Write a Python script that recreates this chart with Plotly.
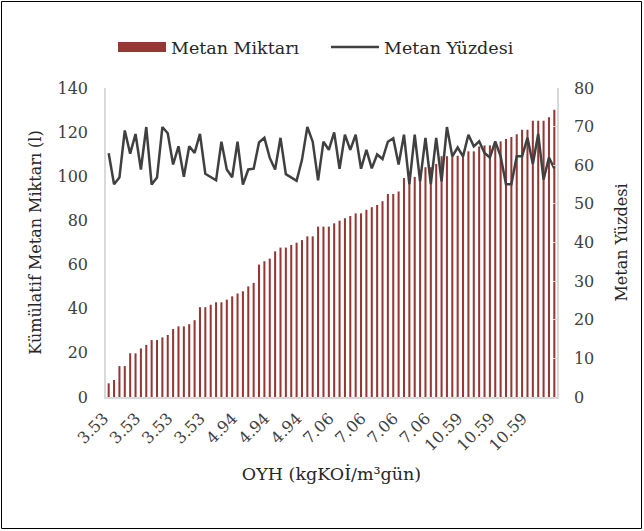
import plotly.graph_objects as go

# OYH (kgKOİ/m³gün) per sample
oyh = (["3.53"] * 24) + (["4.94"] * 18) + (["7.06"] * 24) + (["10.59"] * 18)

# Kümülatif metan miktarı (l)
metan_miktari = [
    6.2, 7.7, 14.0, 14.0, 19.8, 19.8, 22.0, 23.6, 25.8, 25.8,
    27.0, 28.1, 30.8, 32.0, 32.0, 33.0, 34.8, 40.7, 40.7, 41.8,
    42.9, 42.9, 44.1, 45.6, 46.9, 47.9, 50.1, 51.7, 60.0, 61.5,
    62.7, 66.0, 67.7, 67.7, 68.9, 69.9, 71.1, 72.8, 72.8, 77.2,
    77.2, 77.2, 78.7, 79.9, 81.0, 82.0, 83.2, 83.2, 84.8, 86.0,
    87.0, 88.7, 92.0, 92.0, 93.1, 99.2, 99.2, 99.7, 101.0, 104.1,
    104.1, 105.6, 109.1, 109.1, 109.1, 109.3, 110.1, 111.3, 111.3, 113.5,
    114.0, 114.0, 115.1, 115.8, 116.9, 117.8, 119.0, 121.1, 121.1, 125.2,
    125.2, 125.2, 126.7, 130.2,
]

# Metan yüzdesi (%)
metan_yuzdesi = [
    63.1, 55.1, 56.8, 69.0, 63.0, 68.1, 58.9, 69.9, 55.0, 56.8,
    69.9, 68.3, 60.2, 64.9, 57.0, 64.9, 63.2, 68.1, 57.8, 56.9,
    56.1, 66.1, 58.9, 56.9, 66.1, 55.0, 58.9, 59.1, 65.9, 67.1,
    61.9, 58.9, 67.1, 57.7, 56.9, 56.0, 61.4, 69.9, 66.1, 56.1,
    66.1, 64.0, 68.5, 59.1, 67.9, 64.0, 67.9, 59.1, 64.0, 59.2,
    62.8, 61.6, 66.1, 67.0, 60.2, 67.9, 55.1, 67.9, 55.8, 67.1,
    55.1, 67.1, 55.8, 69.9, 62.3, 64.6, 62.3, 67.9, 64.9, 66.2,
    63.2, 62.0, 66.2, 62.3, 55.1, 55.1, 62.3, 62.3, 67.1, 60.3,
    68.1, 56.3, 62.0, 59.2,
]

x = list(range(len(metan_miktari)))
tick_idx = list(range(0, 79, 6))
tick_txt = [oyh[i] for i in tick_idx]

FONT = "DejaVu Serif"
TXT = "#404040"
DARK = "#262626"
AX = "#d9d9d9"
RED = "#953735"

fig = go.Figure()
fig.add_trace(go.Bar(
    x=x, y=metan_miktari, name="Metan Miktarı", showlegend=False,
    marker=dict(color=RED, line=dict(width=0)), width=0.38,
))
fig.add_trace(go.Scatter(
    x=x, y=metan_yuzdesi, name="Metan Yüzdesi", yaxis="y2", legend="legend2",
    mode="lines", line=dict(color="#404040", width=2.5),
))
# legend entry for the bars (wide red swatch like the original)
fig.add_trace(go.Scatter(
    x=[None], y=[None], name="Metan Miktarı", mode="lines",
    line=dict(color=RED, width=11), legend="legend", showlegend=True,
))

W, H = 644, 531
L, R, T, B = 106, 87, 88, 134
pw, ph = W - L - R, H - T - B

def px_x(p):
    return (p - L) / pw

def px_y(p):
    return (T + ph - p) / ph

fig.update_layout(
    width=W, height=H,
    margin=dict(l=L, r=R, t=T, b=B, autoexpand=False),
    paper_bgcolor="white", plot_bgcolor="white",
    font=dict(family=FONT, size=16, color=TXT),
    showlegend=True,
    legend=dict(x=px_x(113), xanchor="left", y=px_y(47), yanchor="middle",
                font=dict(size=17.5, color=DARK), itemwidth=48, bgcolor="rgba(0,0,0,0)"),
    legend2=dict(x=px_x(326), xanchor="left", y=px_y(47), yanchor="middle",
                 font=dict(size=17.5, color=DARK), itemwidth=48, bgcolor="rgba(0,0,0,0)"),
    xaxis=dict(
        range=[-0.5, len(x) - 0.5], tickmode="array", tickvals=tick_idx, ticktext=tick_txt,
        tickangle=-45, showgrid=False, zeroline=False, showline=True, linecolor=AX, linewidth=1.5,
        ticks="", ticklabelstandoff=4, ticklabelshift=-5, automargin=False,
        title=dict(text="OYH (kgKOİ/m³gün)", font=dict(size=17.5, color=DARK), standoff=14),
    ),
    yaxis=dict(
        range=[0, 140], dtick=20, showgrid=False, zeroline=False, showline=True,
        linecolor=AX, linewidth=1.5, ticks="", ticklabelstandoff=13, automargin=False,
        title=dict(text="Kümülatif Metan Miktarı (l)", font=dict(size=16, color=DARK), standoff=12),
    ),
    yaxis2=dict(
        range=[0, 80], dtick=10, overlaying="y", side="right", showgrid=False, zeroline=False,
        showline=True, linecolor=AX, linewidth=1.5, ticks="inside", ticklen=4, tickcolor=AX,
        ticklabelstandoff=12, automargin=False,
        title=dict(text="Metan Yüzdesi", font=dict(size=16, color=DARK), standoff=22),
    ),
    shapes=[dict(
        type="rect", xref="paper", yref="paper",
        x0=px_x(1.5), x1=px_x(W - 2.5), y0=px_y(H - 2.5), y1=px_y(1.5),
        line=dict(color="#000000", width=1), fillcolor="rgba(0,0,0,0)", layer="below",
    )],
)

fig.write_html(
    "out.html",
    config={"displayModeBar": False},
    post_script="document.body.style.margin='0';document.body.style.overflow='hidden';",
)
